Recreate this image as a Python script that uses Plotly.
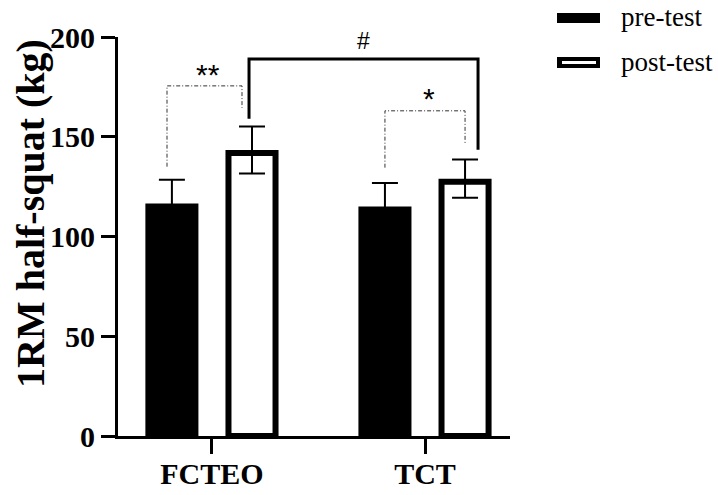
import plotly.graph_objects as go

groups = ["FCTEO", "TCT"]
pre_mean = [116.6, 115.0]
pre_sd = [11.9, 11.8]
post_mean = [143.4, 129.0]
post_sd = [11.8, 9.6]
series_names = ["pre-test", "post-test"]
yticks = [0, 50, 100, 150, 200]
y_title = "1RM half-squat (kg)"

# layout geometry (pixels)
W, H = 718, 495
ML, MR, MT, MB = 118, 208, 37, 59
PW, PH = W - ML - MR, H - MT - MB
YMAX = 200
px_per_unit = PH / YMAX

OFF = 0.188
PRE_W = 0.249
POST_LW = 6
POST_W = 0.249 - POST_LW / (PW / 1.84)
half = POST_LW / 2 / px_per_unit  # border drawn inside the bar

fig = go.Figure()
fig.add_trace(go.Bar(
    x=groups, y=pre_mean, name=series_names[0],
    offset=-OFF - PRE_W / 2, width=PRE_W,
    marker=dict(color="black", line=dict(width=0)),
    error_y=dict(type="data", array=pre_sd, color="black", thickness=2, width=13),
    showlegend=False,
))
fig.add_trace(go.Bar(
    x=groups, y=[m - half for m in post_mean], name=series_names[1],
    offset=OFF - POST_W / 2, width=POST_W,
    marker=dict(color="white", line=dict(width=POST_LW, color="black")),
    error_y=dict(type="data", symmetric=False,
                 array=[s + half for s in post_sd],
                 arrayminus=[s - half for s in post_sd],
                 color="black", thickness=2, width=13),
    showlegend=False,
))

dotdash = "4px,2px,1px,2px"
# ** bracket (FCTEO pre vs post)
br1 = [(-0.211, 135), (-0.211, 175.5), (0.141, 175.5), (0.141, 164.5)]
# * bracket (TCT pre vs post)
br2 = [(0.812, 134.5), (0.812, 163), (1.188, 163), (1.188, 146.5)]
# # bracket (post FCTEO vs post TCT)
br3 = [(0.174, 159), (0.174, 189), (1.249, 189), (1.249, 143.5)]

def path(pts):
    return "M " + " L ".join(f"{x},{y}" for x, y in pts)

fig.add_shape(type="path", path=path(br1), xref="x", yref="y",
              line=dict(color="#333", width=1, dash=dotdash))
fig.add_shape(type="path", path=path(br2), xref="x", yref="y",
              line=dict(color="#333", width=1, dash=dotdash))
fig.add_shape(type="path", path=path(br3), xref="x", yref="y",
              line=dict(color="black", width=3))

sig_font = dict(family="Liberation Sans, Arial", size=30, color="black")
fig.add_annotation(x=-0.02, y=181, text="**", showarrow=False, font=sig_font, xref="x", yref="y")
fig.add_annotation(x=0.71, y=198, text="#", showarrow=False,
                   font=dict(family="Liberation Sans, Arial", size=23, color="black"), xref="x", yref="y")
fig.add_annotation(x=1.02, y=169, text="*", showarrow=False, font=sig_font, xref="x", yref="y")

# custom legend
def px2paper(px, py):
    return (px - ML) / PW, (H - MB - py) / PH

def rect(x0, y0, x1, y1, color):
    a = px2paper(x0, y0)
    b = px2paper(x1, y1)
    fig.add_shape(type="rect", xref="paper", yref="paper",
                  x0=a[0], y0=a[1], x1=b[0], y1=b[1],
                  fillcolor=color, line=dict(width=0), layer="above")

rect(557, 13, 600, 23, "black")
rect(557, 57, 600, 68, "black")
rect(562, 61, 596, 64, "white")
leg_font = dict(family="Liberation Serif, Times New Roman", size=27, color="black")
for name, cy in zip(series_names, [17, 62]):
    ax, ay = px2paper(620, cy)
    fig.add_annotation(x=ax, y=ay, xref="paper", yref="paper", text=name,
                       showarrow=False, xanchor="left", yanchor="middle", font=leg_font,
                       borderpad=0)

# y-axis title as rotated annotation
tx, ty = px2paper(30, 214)
fig.add_annotation(x=tx, y=ty, xref="paper", yref="paper", text=y_title,
                   textangle=-90, showarrow=False, xanchor="center", yanchor="middle",
                   font=dict(size=40, family="Liberation Serif, Times New Roman",
                             color="black", weight="bold"))

tick_font = dict(size=30, family="Liberation Serif, Times New Roman", color="black", weight="bold")
fig.update_layout(
    width=W, height=H,
    margin=dict(l=ML, r=MR, t=MT, b=MB),
    plot_bgcolor="white", paper_bgcolor="white",
    barmode="overlay",
    font=dict(family="Liberation Serif, Times New Roman", color="black"),
)
fig.update_xaxes(
    type="category", range=[-0.441, 1.399], automargin=False,
    showline=True, linecolor="black", linewidth=3,
    ticks="outside", ticklen=15, tickwidth=3, tickcolor="black",
    tickfont=tick_font, ticklabelstandoff=-6,
    showgrid=False, zeroline=False,
)
fig.update_yaxes(
    range=[0, YMAX], tickvals=yticks, automargin=False,
    showline=True, linecolor="black", linewidth=3,
    ticks="outside", ticklen=14, tickwidth=3, tickcolor="black",
    tickfont=tick_font,
    showgrid=False, zeroline=False,
)

fig.write_html("out.html", config={"displayModeBar": False},
               post_script="document.body.style.margin='0';")
